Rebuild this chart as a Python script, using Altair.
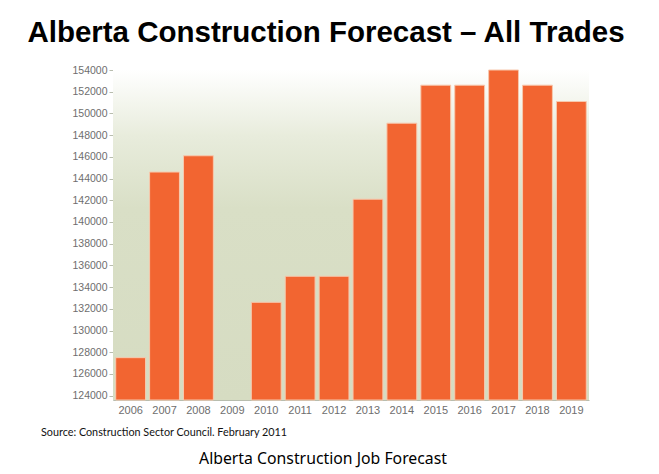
import altair as alt
import pandas as pd

# Alberta construction employment forecast, all trades
years = ["2006", "2007", "2008", "2009", "2010", "2011", "2012",
         "2013", "2014", "2015", "2016", "2017", "2018", "2019"]
workers = [127500, 144600, 146100, None, 132600, 135000, 135000,
           142100, 149100, 152600, 152600, 154000, 152600, 151100]
y_ticks = list(range(124000, 154001, 2000))

title_text = "Alberta Construction Forecast \u2013 All Trades"
source_text = "Source: Construction Sector Council. February 2011"
caption_text = "Alberta Construction Job Forecast"

df = pd.DataFrame({"year": years, "workers": workers})

W, H = 476, 330
LEFT, TOP = 113, 70

x_enc = alt.X("year:O", sort=years,
              scale=alt.Scale(domain=years, paddingInner=0.12, paddingOuter=0.08),
              axis=alt.Axis(title=None, labelAngle=0, ticks=False, domain=True,
                            domainColor="#B8BDAE", labelColor="#6E6E6E",
                            labelFont="Liberation Sans", labelFontSize=11,
                            labelPadding=4))
y_enc = alt.Y("workers:Q",
              scale=alt.Scale(domain=[123600, 154000], zero=False, nice=False),
              axis=alt.Axis(title=None, values=y_ticks, grid=False, format="d",
                            domainColor="#B8BDAE", tickColor="#B8BDAE", tickSize=4,
                            labelColor="#6E6E6E", labelFont="Liberation Sans",
                            labelFontSize=10.5, labelPadding=2))

background = alt.Chart(pd.DataFrame({"k": [0]})).mark_rect(
    fill=alt.Gradient(
        gradient="linear", x1=0, x2=0, y1=0, y2=1,
        stops=[alt.GradientStop(color="#FFFFFF", offset=0),
               alt.GradientStop(color="#E8ECDC", offset=0.2),
               alt.GradientStop(color="#D9DFC6", offset=0.42),
               alt.GradientStop(color="#D6DCC2", offset=1)]),
).encode(x=alt.value(0), x2=alt.value(W), y=alt.value(0), y2=alt.value(H))

bars = alt.Chart(df).transform_filter("datum.workers != null").mark_bar(
    color="#F26531", stroke="#F7C9AE", strokeWidth=1
).encode(x=x_enc, y=y_enc, y2=alt.datum(123600))

title = alt.Chart(pd.DataFrame({"t": [title_text]})).mark_text(
    font="Liberation Sans", fontWeight="bold", fontSize=29.5, color="#000000",
    align="center", baseline="alphabetic"
).encode(text="t:N", x=alt.value(213), y=alt.value(-28.5))

source = alt.Chart(pd.DataFrame({"t": [source_text]})).mark_text(
    font="Lato", fontSize=10.8, color="#111111", align="left", baseline="middle"
).encode(text="t:N", x=alt.value(-72), y=alt.value(363))

caption = alt.Chart(pd.DataFrame({"t": [caption_text]})).mark_text(
    font="Noto Sans", fontSize=15.8, color="#000000", align="center", baseline="middle"
).encode(text="t:N", x=alt.value(210), y=alt.value(389))

chart = alt.layer(background, bars, title, source, caption).properties(
    width=W, height=H,
    autosize=alt.AutoSizeParams(type="none"),
    padding={"left": LEFT, "top": TOP, "right": 659 - LEFT - W, "bottom": 474 - TOP - H},
    background="#FFFFFF",
).configure_view(stroke=None)

chart.save("out.html", embed_options={"renderer": "svg", "actions": False})
